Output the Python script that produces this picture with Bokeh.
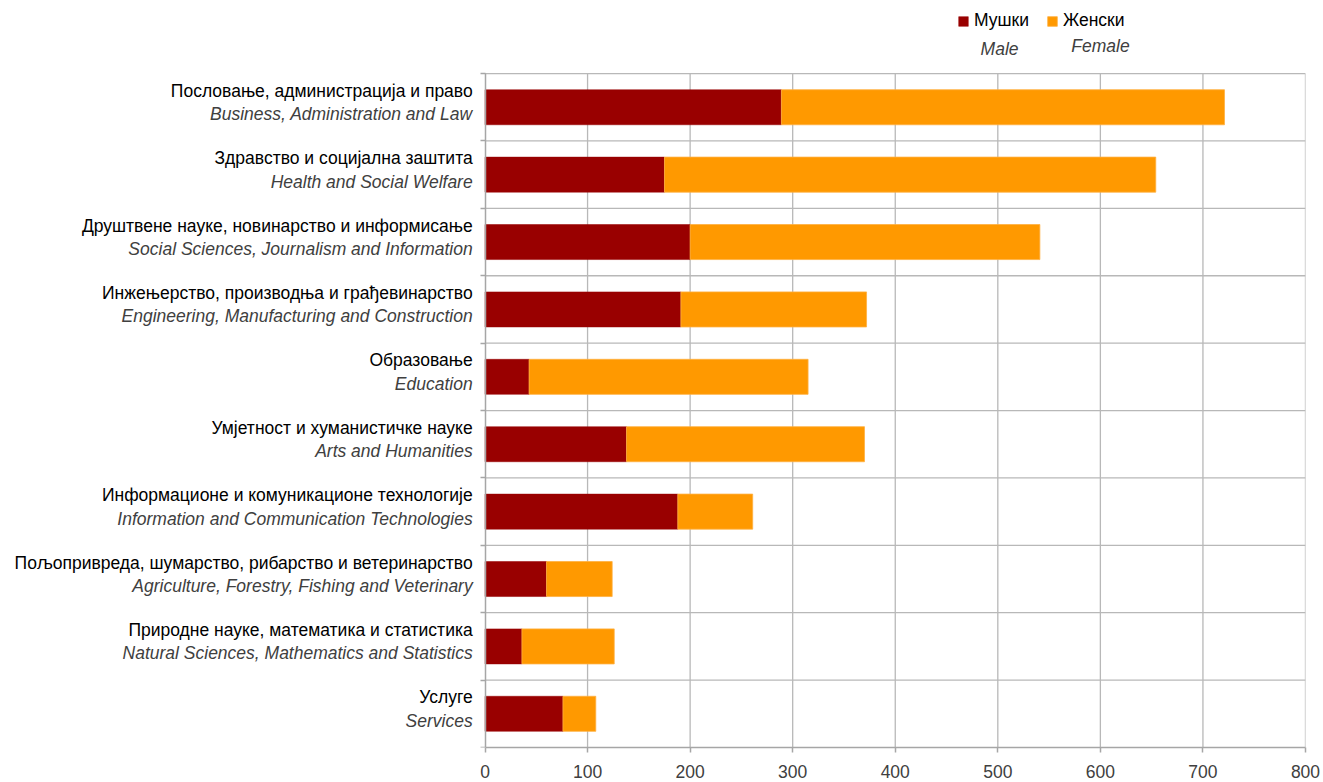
from bokeh.plotting import figure
from bokeh.models import (ColumnDataSource, LabelSet, Label, Legend, LegendItem,
                          FixedTicker, Range1d)
from bokeh.core.properties import value
from bokeh.embed import file_html
from bokeh.resources import INLINE

# ---------------- data ----------------
cat_sr = ["Пословање, администрација и право",
          "Здравство и социјална заштита",
          "Друштвене науке, новинарство и информисање",
          "Инжењерство, производња и грађевинарство",
          "Образовање",
          "Умјетност и хуманистичке науке",
          "Информационе и комуникационе технологије",
          "Пољопривреда, шумарство, рибарство и ветеринарство",
          "Природне науке, математика и статистика",
          "Услуге"]
cat_en = ["Business, Administration and Law",
          "Health and Social Welfare",
          "Social Sciences, Journalism and Information",
          "Engineering, Manufacturing and Construction",
          "Education",
          "Arts and Humanities",
          "Information and Communication Technologies",
          "Agriculture, Forestry, Fishing and Veterinary",
          "Natural Sciences, Mathematics and Statistics",
          "Services"]
male = [289, 175, 200, 191, 43, 138, 188, 60, 36, 76]
female = [432, 479, 341, 181, 272, 232, 73, 64, 90, 32]
x_ticks = [0, 100, 200, 300, 400, 500, 600, 700, 800]
legend_sr = ["Мушки", "Женски"]
legend_en = ["Male", "Female"]

MALE_C = "#990000"
FEMALE_C = "#FF9900"
FONT = "Liberation Sans"
GRID_C = "#b8b8b8"
AXIS_C = "#a6a6a6"

n = len(cat_sr)
ypos = [n - 0.5 - i for i in range(n)]
total = [m + f for m, f in zip(male, female)]
xmax = x_ticks[-1]

src = ColumnDataSource(dict(y=ypos, male=male, total=total,
                            sr=cat_sr, en=cat_en, zero=[0] * n,
                            lx=[-12] * n))

FW, FH = 1305, 747
p = figure(frame_width=FW, frame_height=FH, output_backend="svg", toolbar_location=None,
           x_range=Range1d(-472.4, xmax), y_range=Range1d(0, n + 1.084),
           min_border_left=0, min_border_right=18,
           min_border_top=0, min_border_bottom=31)
p.outline_line_color = None
p.xgrid.visible = False
p.ygrid.visible = False

# grid lines restricted to the plotting area
vx = x_ticks[1:]
p.segment(x0=vx, x1=vx, y0=[0] * len(vx), y1=[n] * len(vx),
          line_color=GRID_C, line_width=1.3)
hy = list(range(1, n + 1))
p.segment(x0=[0] * len(hy), x1=[xmax] * len(hy), y0=hy, y1=hy,
          line_color=GRID_C, line_width=1.3)

r_m = p.hbar(y="y", left="zero", right="male", height=0.52, source=src,
             fill_color=MALE_C, line_color=MALE_C, line_width=0.5)
r_f = p.hbar(y="y", left="male", right="total", height=0.52, source=src,
             fill_color=FEMALE_C, line_color="#FFB040", line_width=0.8)

# axes
p.xaxis.ticker = FixedTicker(ticks=x_ticks)
p.xaxis.bounds = (0, xmax)
p.yaxis.ticker = FixedTicker(ticks=list(range(n + 1)))
p.yaxis.bounds = (0, n)
p.yaxis.fixed_location = 0
p.yaxis.major_label_text_alpha = 0
p.yaxis.major_label_text_font_size = "1px"
p.yaxis.minor_tick_line_color = None
p.xaxis.minor_tick_line_color = None
for ax in (p.xaxis, p.yaxis):
    ax.axis_line_color = AXIS_C
    ax.axis_line_width = 1.5
    ax.major_tick_line_color = AXIS_C
    ax.major_tick_line_width = 1.5
    ax.major_tick_out = 5
    ax.major_tick_in = 0
p.xaxis.major_label_text_font = FONT
p.xaxis.major_label_text_font_size = "17.5px"
p.xaxis.major_label_text_color = "#404040"
p.xaxis.major_label_standoff = 12

# category labels
ls1 = LabelSet(x="lx", y="y", text="sr", source=src, y_offset=16.5,
               text_align="right", text_baseline="middle",
               text_font=value(FONT), text_font_size=value("17.5px"),
               text_color="#000000")
ls2 = LabelSet(x="lx", y="y", text="en", source=src, y_offset=-7,
               text_align="right", text_baseline="middle",
               text_font=value(FONT), text_font_size=value("17.5px"),
               text_font_style="italic", text_color="#404040")
p.add_layout(ls1)
p.add_layout(ls2)

# legend
legend = Legend(items=[LegendItem(label=legend_sr[0], renderers=[r_m]),
                       LegendItem(label=legend_sr[1], renderers=[r_f])],
                orientation="horizontal", location=(957, FH - 31),
                padding=0, margin=0, spacing=17, label_standoff=5,
                glyph_width=12, glyph_height=12, label_height=18,
                label_text_font=FONT, label_text_font_size="17.5px",
                label_text_color="#000000",
                border_line_alpha=0, background_fill_alpha=0)
p.add_layout(legend)

p.add_layout(Label(x=501.7, y=n + 0.371, text=legend_en[0], text_align="center",
                   text_baseline="middle", text_font=FONT, text_font_size="17.5px",
                   text_font_style="italic", text_color="#404040"))
p.add_layout(Label(x=600.1, y=n + 0.416, text=legend_en[1], text_align="center",
                   text_baseline="middle", text_font=FONT, text_font_size="17.5px",
                   text_font_style="italic", text_color="#404040"))

open("out.html", "w").write(file_html(p, INLINE))
